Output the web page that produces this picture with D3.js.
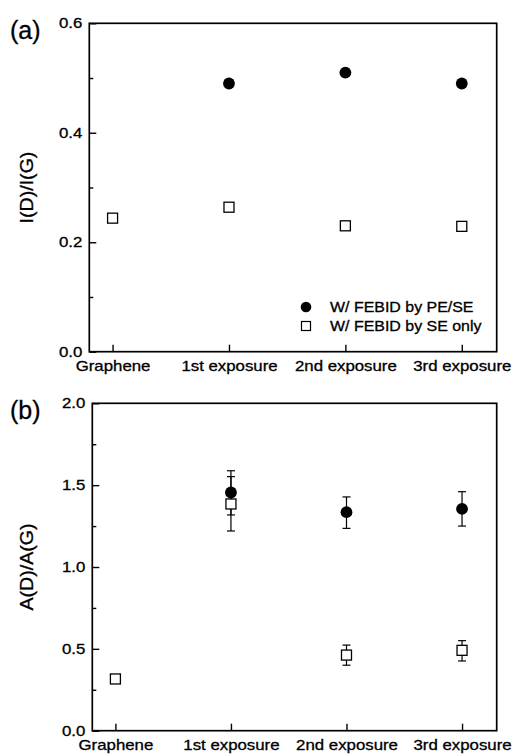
<!DOCTYPE html>
<html>
<head>
<meta charset="utf-8">
<script src="https://cdn.jsdelivr.net/npm/d3@7"></script>
<style>
  body { margin: 0; background: #fff; }
  svg { display: block; font-family: "Liberation Sans", Arial, sans-serif; }
  svg text { stroke: #000; stroke-width: 0.3px; fill: #000; }
</style>
</head>
<body>
<div id="chart"></div>
<script>
// categories on the x axis (positions 1..4)
var categories = ["Graphene", "1st exposure", "2nd exposure", "3rd exposure"];

// (a) I(D)/I(G)
var intPESE = [null, 0.49, 0.51, 0.49];
var intSE   = [0.244, 0.264, 0.230, 0.229];

// (b) A(D)/A(G) with error bar ends
var areaPESE   = [null, 1.455, 1.335, 1.355];
var areaPESElo = [null, 1.318, 1.236, 1.250];
var areaPESEhi = [null, 1.552, 1.428, 1.460];
var areaSE     = [0.316, 1.385, 0.462, 0.491];
var areaSElo   = [null, 1.220, 0.400, 0.426];
var areaSEhi   = [null, 1.588, 0.523, 0.550];

var legendLabels = ["W/ FEBID by PE/SE", "W/ FEBID by SE only"];

var width = 514, height = 755;
var svg = d3.select("#chart").append("svg")
    .attr("width", width)
    .attr("height", height);

// étire le texte horizontalement (la police d'origine est plus large)
function stretch(sel, sx) {
  sel.each(function() {
    var t = d3.select(this);
    var x = +t.attr("x") || 0;
    t.attr("x", x / sx).attr("transform", "scale(" + sx + ",1)");
  });
}

function toRows(vals, lo, hi) {
  return vals.map(function(v, i) {
    return { i: i + 1, v: v, lo: lo ? lo[i] : null, hi: hi ? hi[i] : null };
  }).filter(function(d) { return d.v != null; });
}

function panel(opt) {
  var x = d3.scaleLinear().domain([0.8, 4.3]).range([opt.left, opt.right]);
  var y = d3.scaleLinear().domain(opt.ydomain).range([opt.bottom, opt.top]);
  var g = svg.append("g");

  // minor ticks
  g.append("g")
      .attr("transform", "translate(" + opt.left + ",0)")
      .call(d3.axisLeft(y).tickValues(opt.minor).tickSize(-4).tickFormat(""))
      .call(function(a) { a.select(".domain").remove(); });

  var ya = g.append("g")
      .attr("transform", "translate(" + opt.left + ",0)")
      .call(d3.axisLeft(y).tickValues(opt.major).tickSize(-7).tickPadding(7)
        .tickFormat(d3.format(".1f")));
  ya.select(".domain").remove();

  var xa = g.append("g")
      .attr("transform", "translate(0," + opt.bottom + ")")
      .call(d3.axisBottom(x).tickValues([1, 2, 3, 4]).tickSize(-7).tickPadding(9.5)
        .tickFormat(function(d) { return categories[d - 1]; }));
  xa.select(".domain").remove();

  g.selectAll(".tick line").attr("stroke", "#000").attr("stroke-width", 1.4);
  g.selectAll(".tick text").attr("font-size", 14.5).attr("fill", "#000")
      .attr("font-family", "Liberation Sans, Arial, sans-serif");
  stretch(g.selectAll(".tick text"), 1.16);

  g.append("rect")
      .attr("x", opt.left).attr("y", opt.top)
      .attr("width", opt.right - opt.left).attr("height", opt.bottom - opt.top)
      .attr("fill", "none").attr("stroke", "#000").attr("stroke-width", 1.7);

  // titre de l'axe y
  g.append("text")
      .attr("transform", "translate(33," + (opt.top + opt.bottom) / 2 + ") rotate(-90) scale(1.12,1)")
      .attr("text-anchor", "middle")
      .attr("font-size", 17.5)
      .text(opt.ytitle);

  g.append("text")
      .attr("x", 10).attr("y", opt.top + 15.5)
      .attr("font-size", 25)
      .text(opt.tag);

  var circles = toRows(opt.pe, opt.peLo, opt.peHi);
  var squares = toRows(opt.se, opt.seLo, opt.seHi);

  // barres d'erreur
  var bars = circles.concat(squares).filter(function(d) { return d.lo != null; });
  var eb = g.append("g").attr("stroke", "#000").attr("stroke-width", 1.2);
  bars.forEach(function(d) {
    eb.append("line").attr("x1", x(d.i)).attr("x2", x(d.i))
        .attr("y1", y(d.lo)).attr("y2", y(d.hi));
    [d.lo, d.hi].forEach(function(e) {
      eb.append("line").attr("x1", x(d.i) - 4).attr("x2", x(d.i) + 4)
          .attr("y1", y(e)).attr("y2", y(e));
    });
  });

  g.append("g").selectAll("rect")
    .data(squares)
    .enter().append("rect")
      .attr("x", function(d) { return x(d.i) - 5; })
      .attr("y", function(d) { return y(d.v) - 5; })
      .attr("width", 10).attr("height", 10)
      .attr("fill", "#fff").attr("stroke", "#000").attr("stroke-width", 1.3);

  g.append("g").selectAll("circle")
    .data(circles)
    .enter().append("circle")
      .attr("cx", function(d) { return x(d.i); })
      .attr("cy", function(d) { return y(d.v); })
      .attr("r", 5.9)
      .attr("fill", "#000");

  return { x: x, y: y, g: g };
}

var pa = panel({
  left: 89.3, right: 496.7, top: 23.3, bottom: 351.7,
  ydomain: [0, 0.6], major: [0, 0.2, 0.4, 0.6], minor: [0.1, 0.3, 0.5],
  ytitle: "I(D)/I(G)", tag: "(a)",
  pe: intPESE, se: intSE
});

var pb = panel({
  left: 92.3, right: 496.7, top: 403.3, bottom: 730.7,
  ydomain: [0, 2], major: [0, 0.5, 1, 1.5, 2], minor: [0.25, 0.75, 1.25, 1.75],
  ytitle: "A(D)/A(G)", tag: "(b)",
  pe: areaPESE, peLo: areaPESElo, peHi: areaPESEhi,
  se: areaSE, seLo: areaSElo, seHi: areaSEhi
});

// légende du panneau (a)
var lg = pa.g.append("g").attr("transform", "translate(306,307)");
lg.append("circle").attr("cx", 0).attr("cy", 0).attr("r", 5.3).attr("fill", "#000");
lg.append("rect").attr("x", -4.5).attr("y", 14.5).attr("width", 9).attr("height", 9)
    .attr("fill", "#fff").attr("stroke", "#000").attr("stroke-width", 1.2);
var lt = lg.selectAll("text.lab")
  .data(legendLabels)
  .enter().append("text")
    .attr("class", "lab")
    .attr("x", 24)
    .attr("y", function(d, i) { return 4.5 + i * 19.5; })
    .attr("font-size", 14.5)
    .text(function(d) { return d; });
stretch(lt, 1.1);
</script>
</body>
</html>
